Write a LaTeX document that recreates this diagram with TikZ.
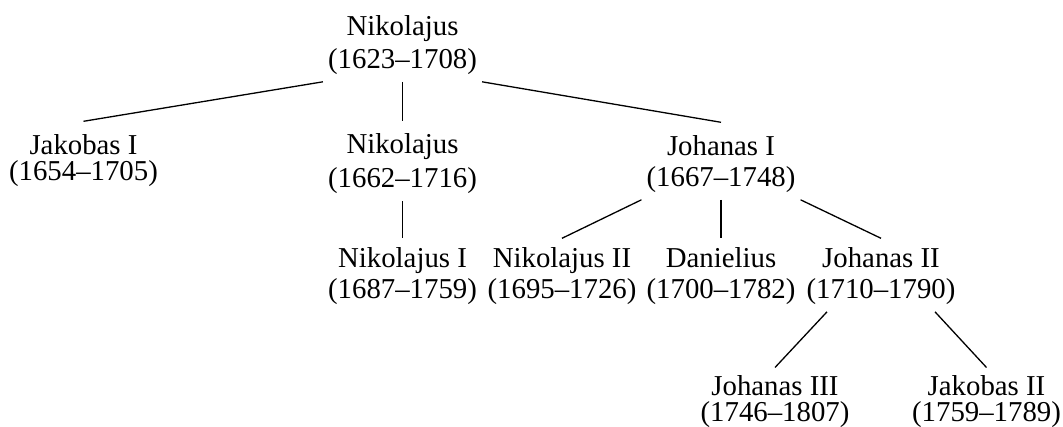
\documentclass[tikz,border=0pt]{standalone}
\usepackage{fontspec}
\setmainfont{Liberation Serif}
\begin{document}
\begin{tikzpicture}[x=1pt,y=-1pt,
  person/.style={font=\fontsize{28.8}{#1}\selectfont, align=center, anchor=north,
                 inner xsep=5pt, inner ysep=7pt},
  person/.default=31,
  link/.style={line width=1.3pt}]
\useasboundingbox (0,0) rectangle (1063,427);

% generation 0
\node[person=33] (root) at (402.5,8.3) {Nikolajus\\(1623--1708)};

% generation 1
\node[person=26] (jak1) at (83.5,127.3) {Jakobas I\\(1654--1705)};
\node[person=34] (nik)  at (402.5,126.8) {Nikolajus\\(1662--1716)};
\node[person=31] (joh1) at (721,128.3) {Johanas I\\(1667--1748)};

% generation 2
\node[person] (nik1) at (402.5,240.3) {Nikolajus I\\(1687--1759)};
\node[person] (nik2) at (562,240.3)   {Nikolajus II\\(1695--1726)};
\node[person] (dan)  at (721,240.3)   {Danielius\\(1700--1782)};
\node[person] (joh2) at (881,240.3)   {Johanas II\\(1710--1790)};

% generation 3
\node[person=26] (joh3) at (775,368.5)   {Johanas III\\(1746--1807)};
\node[person=26] (jak2) at (986.5,368.5) {Jakobas II\\(1759--1789)};

% descent lines
\draw[link] (root.south west) -- ([yshift=6pt]jak1.north);
\draw[link] (root.south) -- ([yshift=6pt]nik.north);
\draw[link] (root.south east) -- ([yshift=6pt]joh1.north);

\draw[link] (nik.south) -- ([yshift=2pt]nik1.north);

\draw[link] (joh1.south west) -- ([yshift=2pt]nik2.north);
\draw[link] (joh1.south) -- ([yshift=2pt]dan.north);
\draw[link] (joh1.south east) -- ([yshift=2pt]joh2.north);

\draw[link] ([xshift=-54pt]joh2.south) -- ([yshift=1pt]joh3.north);
\draw[link] ([xshift=54pt]joh2.south) -- ([yshift=1pt]jak2.north);
\end{tikzpicture}
\end{document}
